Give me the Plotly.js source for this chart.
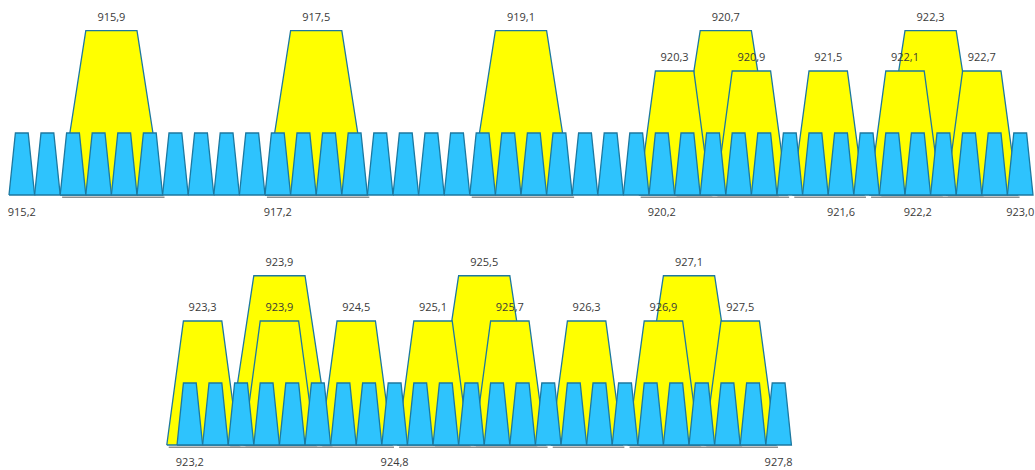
<!DOCTYPE html>
<html>
<head>
<meta charset="utf-8">
<script src="https://cdn.plot.ly/plotly-3.0.1.min.js"></script>
<style>html,body{margin:0;padding:0;background:#fff;}#chart{width:1035px;height:470px;}</style>
</head>
<body>
<div id="chart"></div>
<script>
// ---- data ----
const topChannels = [915.2, 915.4, 915.6, 915.8, 916.0, 916.2, 916.4, 916.6, 916.8, 917.0,
  917.2, 917.4, 917.6, 917.8, 918.0, 918.2, 918.4, 918.6, 918.8, 919.0,
  919.2, 919.4, 919.6, 919.8, 920.0, 920.2, 920.4, 920.6, 920.8, 921.0,
  921.2, 921.4, 921.6, 921.8, 922.0, 922.2, 922.4, 922.6, 922.8, 923.0];
const botChannels = [923.2, 923.4, 923.6, 923.8, 924.0, 924.2, 924.4, 924.6, 924.8, 925.0,
  925.2, 925.4, 925.6, 925.8, 926.0, 926.2, 926.4, 926.6, 926.8, 927.0,
  927.2, 927.4, 927.6, 927.8];
const topWide = [915.9, 917.5, 919.1, 920.7, 922.3];
const topNarrow = [920.3, 920.9, 921.5, 922.1, 922.7];
const botWide = [923.9, 925.5, 927.1];
const botNarrow = [923.3, 923.9, 924.5, 925.1, 925.7, 926.3, 926.9, 927.5];
const topTicks = [915.2, 917.2, 920.2, 921.6, 922.2, 923.0];
const botTicks = [923.2, 924.8, 927.8];

// ---- styles ----
const BLUE = '#2EC3FD', YELLOW = '#FFFF00', EDGE = '#1C78A0';
const BLUE_H = 1, NARROW_H = 2.0;
const WIDE_H_TOP = 2.65, WIDE_H_BOT = 2.73;
const fmt = v => v.toFixed(1).replace('.', ',');

const traces = [];
function trap(c, bh, th, h, xa, ya, fill) {
  traces.push({
    type: 'scatter', mode: 'lines', xaxis: xa, yaxis: ya,
    x: [c - bh, c - th, c + th, c + bh, c - bh],
    y: [0, h, h, 0, 0],
    fill: 'toself', fillcolor: fill,
    line: {color: EDGE, width: 1.3},
    hoverinfo: 'skip', showlegend: false
  });
}
function shadows(centers, bh, xa, ya) {
  const xs = [], ys = [];
  centers.forEach(c => { xs.push(c - bh + 0.015, c + bh + 0.015, null); ys.push(-0.035, -0.035, null); });
  traces.push({
    type: 'scatter', mode: 'lines', xaxis: xa, yaxis: ya,
    x: xs, y: ys, connectgaps: false,
    line: {color: '#8f8f8f', width: 1.6},
    hoverinfo: 'skip', showlegend: false
  });
}
function labels(xs, ys, xa, ya) {
  traces.push({
    type: 'scatter', mode: 'text', xaxis: xa, yaxis: ya,
    x: xs, y: ys, text: xs.map(fmt),
    textposition: 'middle center',
    textfont: {family: 'Open Sans, Liberation Sans, sans-serif', size: 11, color: '#3a3a3a'},
    hoverinfo: 'skip', showlegend: false
  });
}

function row(channels, wide, narrow, ticks, wideH, xa, ya) {
  shadows(wide, 0.4, xa, ya);
  shadows(narrow, 0.28, xa, ya);
  wide.forEach(c => trap(c, 0.4, 0.2, wideH, xa, ya, YELLOW));
  narrow.forEach(c => trap(c, 0.28, 0.15, NARROW_H, xa, ya, YELLOW));
  channels.forEach(c => trap(c, 0.1, 0.05, BLUE_H, xa, ya, BLUE));
  labels(wide, wide.map(() => wideH + 0.2), xa, ya);
  labels(narrow, narrow.map(() => NARROW_H + 0.2), xa, ya);
  labels(ticks, ticks.map(() => -0.3), xa, ya);
}

row(topChannels, topWide, topNarrow, topTicks, WIDE_H_TOP, 'x', 'y');
row(botChannels, botWide, botNarrow, botTicks, WIDE_H_BOT, 'x2', 'y2');

const hidden = {showgrid: false, zeroline: false, showticklabels: false, showline: false, ticks: '', fixedrange: true};
const layout = {
  width: 1035, height: 470,
  margin: {l: 0, r: 0, t: 0, b: 0},
  paper_bgcolor: '#ffffff', plot_bgcolor: '#ffffff',
  showlegend: false, hovermode: false,
  xaxis: Object.assign({}, hidden, {domain: [0, 1], range: [915.0297, 923.1156], anchor: 'y'}),
  yaxis: Object.assign({}, hidden, {domain: [0.5, 1], range: [-0.645, 3.145], anchor: 'x'}),
  xaxis2: Object.assign({}, hidden, {domain: [0, 1], range: [921.717, 929.803], anchor: 'y2'}),
  yaxis2: Object.assign({}, hidden, {domain: [0, 0.5], range: [-0.403, 3.387], anchor: 'x2'})
};
Plotly.newPlot('chart', traces, layout, {staticPlot: true, displayModeBar: false});
</script>
</body>
</html>
